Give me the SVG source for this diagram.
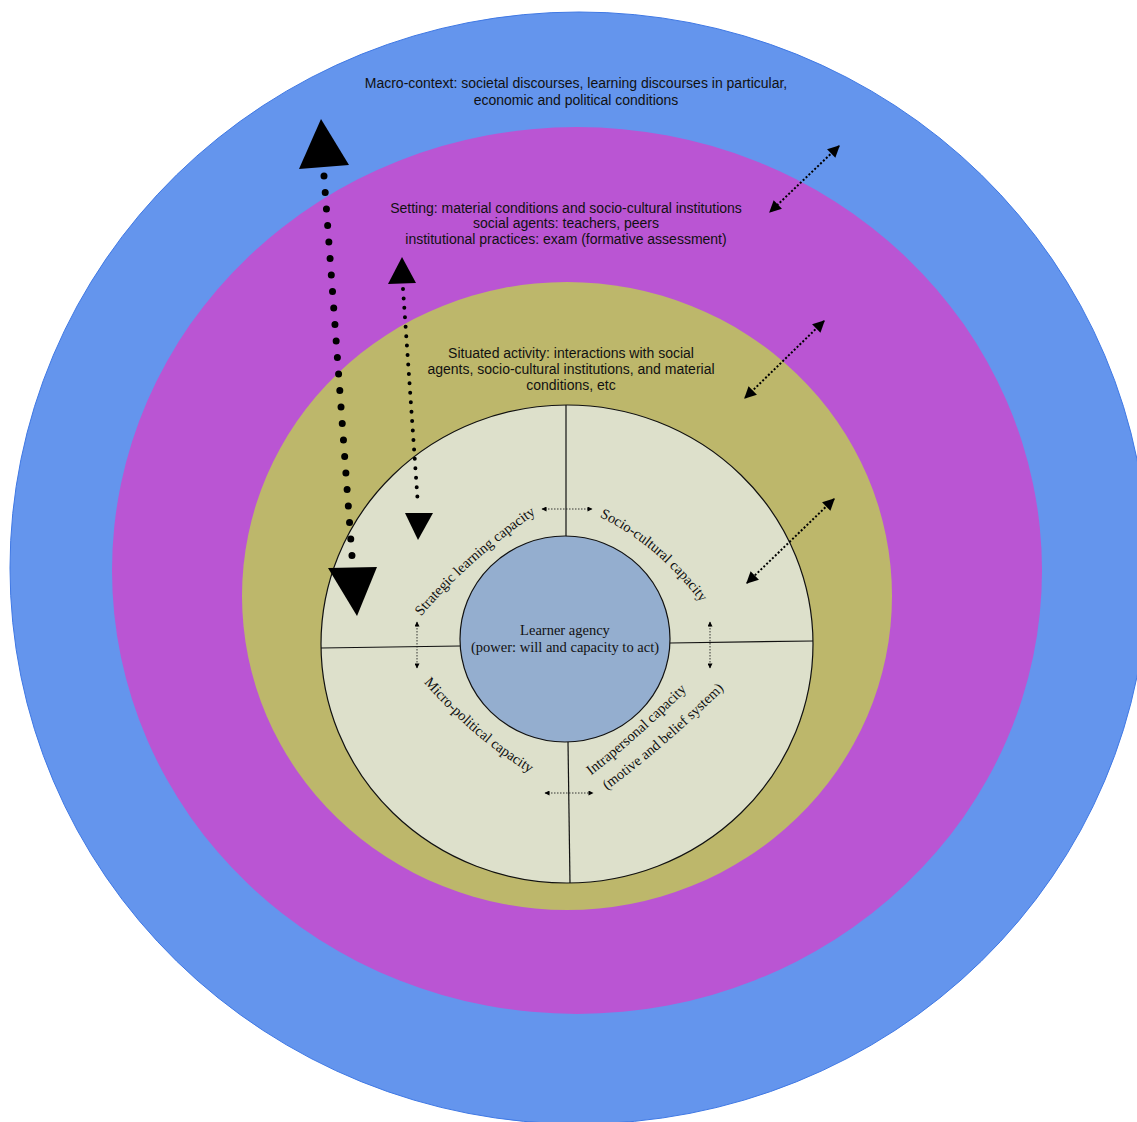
<svg xmlns="http://www.w3.org/2000/svg" width="1137" height="1122" viewBox="0 0 1137 1122">
<style>
.sans{font-family:"Liberation Sans",Arial,sans-serif;font-size:14px;fill:#111;text-anchor:middle}
.serif{font-family:"Liberation Serif","Times New Roman",serif;font-size:14.5px;fill:#111}
.ring{stroke:#111;stroke-width:1.2}
.dotbig{stroke:#000;stroke-linecap:round;fill:none}
.dash{stroke:#000;stroke-width:2;stroke-dasharray:2 2;fill:none}
.thin{stroke:#222;stroke-width:0.9;stroke-dasharray:1.5 1.5;fill:none}
</style>
<defs>
<marker id="ah" viewBox="0 0 10 10" refX="9" refY="5" markerUnits="userSpaceOnUse" markerWidth="14" markerHeight="12" orient="auto-start-reverse">
<path d="M0,0 L10,5 L0,10 z" fill="#000"/>
</marker>
<marker id="ahs" viewBox="0 0 10 10" refX="9" refY="5" markerUnits="userSpaceOnUse" markerWidth="6" markerHeight="5" orient="auto-start-reverse">
<path d="M0,0 L10,5 L0,10 z" fill="#000"/>
</marker>
<path id="pStrat" d="M 418,620 Q 468,560 540,511"/>
<path id="pSocio" d="M 598,516 Q 658,545 702,604"/>
<path id="pMicro" d="M 425,684 Q 473,738 528,772"/>
<path id="pIntra1" d="M 589,777 Q 638,739 689,688"/>
<path id="pIntra2" d="M 606,791 Q 670,743 725,688"/>
</defs>
<rect width="1137" height="1122" fill="#fff"/>
<g id="macro">
<ellipse cx="579" cy="568" rx="569" ry="556" fill="#6495ED" stroke="#3f78e4" stroke-width="1"/>
<text class="sans" x="576" y="87.5">Macro-context: societal discourses, learning discourses in particular,</text>
<text class="sans" x="576" y="105">economic and political conditions</text>
</g>
<g id="setting">
<ellipse cx="577" cy="570.5" rx="465" ry="443.5" fill="#BA55D3"/>
<text class="sans" x="566" y="212.5">Setting: material conditions and socio-cultural institutions</text>
<text class="sans" x="566" y="228">social agents: teachers, peers</text>
<text class="sans" x="566" y="243.5">institutional practices: exam (formative assessment)</text>
</g>
<g id="situated">
<ellipse cx="567" cy="596" rx="325" ry="314" fill="#BDB76B"/>
<text class="sans" x="571" y="357.5">Situated activity: interactions with social</text>
<text class="sans" x="571" y="374">agents, socio-cultural institutions, and material</text>
<text class="sans" x="571" y="390">conditions, etc</text>
</g>
<g id="capacities">
<ellipse class="ring" cx="567" cy="644" rx="246" ry="239" fill="#DDE0CB"/>
<line class="ring" x1="566" y1="405" x2="566" y2="537"/>
<line class="ring" x1="568" y1="742" x2="570" y2="883"/>
<line class="ring" x1="321" y1="648" x2="460" y2="646"/>
<line class="ring" x1="670" y1="643" x2="813" y2="641"/>
</g>
<g id="strategic">
<text class="serif" text-anchor="middle"><textPath href="#pStrat" startOffset="50%">Strategic learning capacity</textPath></text>
</g>
<g id="sociocultural">
<text class="serif" text-anchor="middle"><textPath href="#pSocio" startOffset="50%">Socio-cultural capacity</textPath></text>
</g>
<g id="micropolitical">
<text class="serif" text-anchor="middle"><textPath href="#pMicro" startOffset="50%">Micro-political capacity</textPath></text>
</g>
<g id="intrapersonal">
<text class="serif" text-anchor="middle"><textPath href="#pIntra1" startOffset="50%">Intrapersonal capacity</textPath></text>
<text class="serif" text-anchor="middle"><textPath href="#pIntra2" startOffset="50%">(motive and belief system)</textPath></text>
</g>
<g id="learner">
<ellipse class="ring" cx="565" cy="639" rx="105" ry="103" fill="#94AECF"/>
<text class="serif" x="565" y="635" text-anchor="middle">Learner agency</text>
<text class="serif" x="565" y="652" text-anchor="middle">(power: will and capacity to act)</text>
</g>
<g id="connectors">
<line class="dotbig" x1="324" y1="176" x2="352" y2="556" stroke-width="7" stroke-dasharray="0 16.55"/>
<polygon points="321,119 299,169 349,165" fill="#000"/>
<polygon points="328,568 377,567 357,616" fill="#000"/>
<line class="dotbig" x1="403" y1="289" x2="418" y2="506" stroke-width="4" stroke-dasharray="0 9.46"/>
<polygon points="402,257 388,284 416,283" fill="#000"/>
<polygon points="405,513 433,513 418,540" fill="#000"/>
<line class="dash" x1="839" y1="146" x2="770" y2="212" marker-start="url(#ah)" marker-end="url(#ah)"/>
<line class="dash" x1="824" y1="321" x2="745" y2="398" marker-start="url(#ah)" marker-end="url(#ah)"/>
<line class="dash" x1="834" y1="499" x2="747" y2="583" marker-start="url(#ah)" marker-end="url(#ah)"/>
<line class="thin" x1="542" y1="509" x2="592" y2="509" marker-start="url(#ahs)" marker-end="url(#ahs)"/>
<line class="thin" x1="417" y1="622" x2="417" y2="668" marker-start="url(#ahs)" marker-end="url(#ahs)"/>
<line class="thin" x1="710" y1="622" x2="710" y2="668" marker-start="url(#ahs)" marker-end="url(#ahs)"/>
<line class="thin" x1="545" y1="793" x2="593" y2="793" marker-start="url(#ahs)" marker-end="url(#ahs)"/>
</g>
</svg>
